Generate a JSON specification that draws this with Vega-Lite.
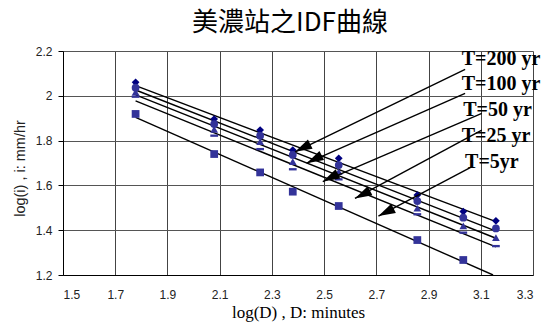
{
  "$schema": "https://vega.github.io/schema/vega-lite/v6.json",
  "width": 470,
  "height": 224,
  "autosize": {"type": "none"},
  "padding": {"left": 63, "top": 51, "right": 13, "bottom": 50},
  "background": "white",
  "title": {"text": "美濃站之IDF曲線", "font": "Noto Sans CJK TC", "fontSize": 26, "fontWeight": "normal", "color": "black", "anchor": "middle", "frame": "group", "dx": -8, "offset": 9},
  "config": {"view": {"stroke": null}},
  "datasets": {
    "points": [
      {"T": "T=200 yr", "logD": 1.778, "logi": 2.060},
      {"T": "T=200 yr", "logD": 2.079, "logi": 1.896},
      {"T": "T=200 yr", "logD": 2.255, "logi": 1.847},
      {"T": "T=200 yr", "logD": 2.380, "logi": 1.758},
      {"T": "T=200 yr", "logD": 2.556, "logi": 1.721},
      {"T": "T=200 yr", "logD": 2.857, "logi": 1.557},
      {"T": "T=200 yr", "logD": 3.033, "logi": 1.483},
      {"T": "T=200 yr", "logD": 3.158, "logi": 1.442},
      {"T": "T=100 yr", "logD": 1.778, "logi": 2.036},
      {"T": "T=100 yr", "logD": 2.079, "logi": 1.874},
      {"T": "T=100 yr", "logD": 2.255, "logi": 1.822},
      {"T": "T=100 yr", "logD": 2.380, "logi": 1.736},
      {"T": "T=100 yr", "logD": 2.556, "logi": 1.691},
      {"T": "T=100 yr", "logD": 2.857, "logi": 1.530},
      {"T": "T=100 yr", "logD": 3.033, "logi": 1.456},
      {"T": "T=100 yr", "logD": 3.158, "logi": 1.408},
      {"T": "T=50 yr", "logD": 1.778, "logi": 2.016},
      {"T": "T=50 yr", "logD": 2.079, "logi": 1.850},
      {"T": "T=50 yr", "logD": 2.255, "logi": 1.795},
      {"T": "T=50 yr", "logD": 2.380, "logi": 1.706},
      {"T": "T=50 yr", "logD": 2.556, "logi": 1.661},
      {"T": "T=50 yr", "logD": 2.857, "logi": 1.498},
      {"T": "T=50 yr", "logD": 3.033, "logi": 1.419},
      {"T": "T=50 yr", "logD": 3.158, "logi": 1.367},
      {"T": "T=25 yr", "logD": 1.778, "logi": 1.996},
      {"T": "T=25 yr", "logD": 2.079, "logi": 1.822},
      {"T": "T=25 yr", "logD": 2.255, "logi": 1.762},
      {"T": "T=25 yr", "logD": 2.380, "logi": 1.672},
      {"T": "T=25 yr", "logD": 2.556, "logi": 1.627},
      {"T": "T=25 yr", "logD": 2.857, "logi": 1.471},
      {"T": "T=25 yr", "logD": 3.033, "logi": 1.389},
      {"T": "T=25 yr", "logD": 3.158, "logi": 1.329},
      {"T": "T=5yr", "logD": 1.778, "logi": 1.919},
      {"T": "T=5yr", "logD": 2.079, "logi": 1.740},
      {"T": "T=5yr", "logD": 2.255, "logi": 1.658},
      {"T": "T=5yr", "logD": 2.380, "logi": 1.572},
      {"T": "T=5yr", "logD": 2.556, "logi": 1.508},
      {"T": "T=5yr", "logD": 2.857, "logi": 1.356},
      {"T": "T=5yr", "logD": 3.033, "logi": 1.267}
    ],
    "lines": [
      {"T": "T=200 yr", "x1": 1.778, "y1": 2.045, "x2": 3.158, "y2": 1.438},
      {"T": "T=100 yr", "x1": 1.778, "y1": 2.026, "x2": 3.158, "y2": 1.396},
      {"T": "T=50 yr", "x1": 1.778, "y1": 2.004, "x2": 3.158, "y2": 1.364},
      {"T": "T=25 yr", "x1": 1.778, "y1": 1.977, "x2": 3.158, "y2": 1.326},
      {"T": "T=5yr", "x1": 1.778, "y1": 1.904, "x2": 3.147, "y2": 1.200}
    ],
    "arrows": [
      {"T": "T=200 yr", "xs": 3.040, "ys": 2.118, "xt": 2.389, "yt": 1.750},
      {"T": "T=100 yr", "xs": 3.040, "ys": 2.011, "xt": 2.433, "yt": 1.699},
      {"T": "T=50 yr", "xs": 3.104, "ys": 1.922, "xt": 2.495, "yt": 1.617},
      {"T": "T=25 yr", "xs": 3.104, "ys": 1.847, "xt": 2.618, "yt": 1.542},
      {"T": "T=5yr", "xs": 3.065, "ys": 1.683, "xt": 2.708, "yt": 1.463}
    ],
    "labels": [
      {"T": "T=200 yr", "lx": 3.027, "ly": 2.1375},
      {"T": "T=100 yr", "lx": 3.027, "ly": 2.026},
      {"T": "T=50 yr", "lx": 3.033, "ly": 1.910},
      {"T": "T=25 yr", "lx": 3.027, "ly": 1.795},
      {"T": "T=5yr", "lx": 3.040, "ly": 1.676}
    ]
  },
  "layer": [
    {
      "data": {"name": "lines"},
      "mark": {"type": "rule", "color": "black", "strokeWidth": 1.4, "clip": true},
      "encoding": {
        "x": {"field": "x1", "type": "quantitative",
          "scale": {"domain": [1.5, 3.3], "nice": false, "zero": false},
          "axis": {"values": [1.5, 1.7, 1.9, 2.1, 2.3, 2.5, 2.7, 2.9, 3.1, 3.3], "format": "~g",
            "title": "log(D) , D: minutes", "titleFont": "Liberation Serif", "titleFontSize": 17, "titleFontWeight": "normal", "titleColor": "black", "titlePadding": 4,
            "labelFont": "Liberation Sans", "labelFontSize": 12, "labelColor": "#222", "labelPadding": 14,
            "ticks": false, "domainColor": "black", "domainWidth": 1,
            "grid": true, "gridColor": "#444", "gridWidth": 1}},
        "y": {"field": "y1", "type": "quantitative",
          "scale": {"domain": [1.2, 2.2], "nice": false, "zero": false},
          "axis": {"values": [1.2, 1.4, 1.6, 1.8, 2.0, 2.2], "format": "~g",
            "title": "log(i) , i: mm/hr", "titleFont": "Liberation Sans", "titleFontSize": 14.5, "titleFontWeight": "normal", "titleColor": "#222", "titlePadding": 8, "titleY": 117,
            "labelFont": "Liberation Sans", "labelFontSize": 12, "labelColor": "#222", "labelPadding": 6,
            "ticks": true, "tickSize": 5, "tickColor": "black", "domainColor": "black", "domainWidth": 1,
            "grid": true, "gridColor": "#555", "gridWidth": 1}},
        "x2": {"field": "x2"},
        "y2": {"field": "y2"}
      }
    },
    {
      "data": {"name": "points"},
      "mark": {"type": "point", "filled": true, "opacity": 1, "size": 60},
      "encoding": {
        "x": {"field": "logD", "type": "quantitative"},
        "y": {"field": "logi", "type": "quantitative"},
        "shape": {"field": "T", "type": "nominal", "legend": null,
          "scale": {"domain": ["T=200 yr", "T=100 yr", "T=50 yr", "T=25 yr", "T=5yr"],
            "range": ["diamond", "circle", "triangle-up", "M-1,-0.3H1V0.3H-1Z", "square"]}},
        "color": {"field": "T", "type": "nominal", "legend": null,
          "scale": {"domain": ["T=200 yr", "T=100 yr", "T=50 yr", "T=25 yr", "T=5yr"],
            "range": ["#000080", "#333399", "#333399", "#333399", "#333399"]}}
      }
    },
    {
      "data": {"name": "arrows"},
      "mark": {"type": "rule", "color": "black", "strokeWidth": 1.4},
      "encoding": {
        "x": {"field": "xs", "type": "quantitative"},
        "y": {"field": "ys", "type": "quantitative"},
        "x2": {"field": "xt"},
        "y2": {"field": "yt"}
      }
    },
    {
      "data": {"name": "arrows"},
      "mark": {"type": "point", "shape": "M0,0L2,-0.6L2,0.6Z", "size": 289, "angle": -27, "filled": true, "color": "black", "opacity": 1},
      "encoding": {
        "x": {"field": "xt", "type": "quantitative"},
        "y": {"field": "yt", "type": "quantitative"}
      }
    },
    {
      "data": {"name": "labels"},
      "mark": {"type": "text", "align": "left", "baseline": "alphabetic", "font": "Liberation Serif", "fontWeight": "bold", "fontSize": 20, "color": "black"},
      "encoding": {
        "x": {"field": "lx", "type": "quantitative"},
        "y": {"field": "ly", "type": "quantitative"},
        "text": {"field": "T", "type": "nominal"}
      }
    }
  ]
}
